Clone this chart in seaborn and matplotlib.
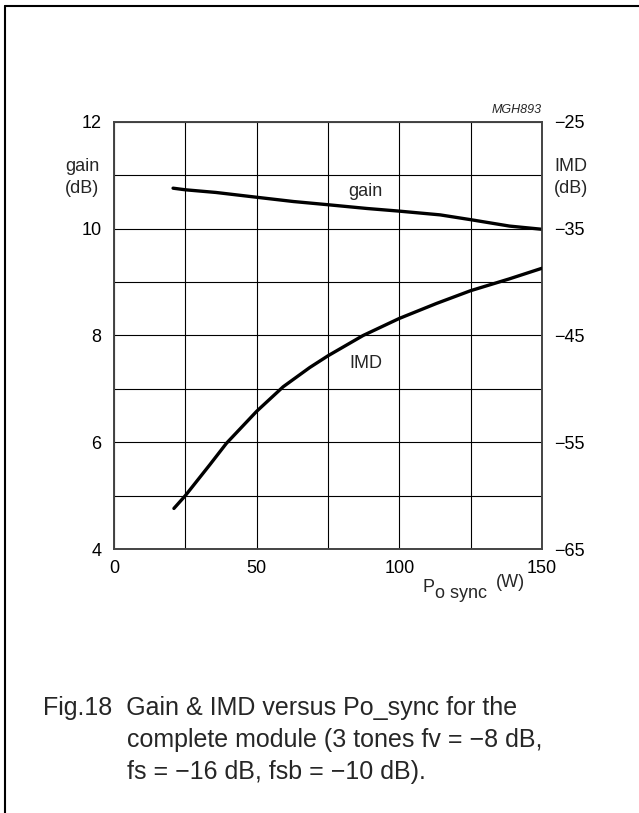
import matplotlib
matplotlib.use("Agg")
import matplotlib.pyplot as plt
import seaborn as sns
import pandas as pd
from matplotlib.lines import Line2D
from matplotlib.ticker import MultipleLocator

# ---- data ----
gain_x = [20.7, 25, 35.7, 50, 62.9, 75, 88.6, 100, 114.3, 125, 138.6, 150]
gain_y = [10.76, 10.73, 10.68, 10.59, 10.51, 10.45, 10.38, 10.33, 10.26, 10.17, 10.05, 9.99]

imd_x = [21, 25, 33.6, 39.4, 50, 59.3, 68.6, 75, 87.3, 100, 113, 125, 138.5, 150]
imd_y = [-61.2, -60.0, -57.1, -55.1, -52.1, -49.8, -48.0, -46.9, -45.0, -43.4, -42.0, -40.8, -39.7, -38.7]

x_ticks = [0, 50, 100, 150]
gain_ticks = [4, 6, 8, 10, 12]
imd_ticks = [-65, -55, -45, -35, -25]

caption1 = "Fig.18  Gain & IMD versus Po_sync for the"
caption2 = "complete module (3 tones fv = \u22128 dB,"
caption3 = "fs = \u221216 dB, fsb = \u221210 dB)."

sns.set_style("white")
plt.rcParams['font.family'] = ['Liberation Sans', 'DejaVu Sans']

W, H = 639, 813
fig = plt.figure(figsize=(W / 100, H / 100), dpi=100)
fig.patch.set_facecolor('white')

L, R, T, B = 114, 542, 122, 549
ax = fig.add_axes([L / W, 1 - B / H, (R - L) / W, (B - T) / H])
ax2 = ax.twinx()

gdf = pd.DataFrame({"P": gain_x, "gain": gain_y})
idf = pd.DataFrame({"P": imd_x, "IMD": imd_y})
sns.lineplot(data=gdf, x="P", y="gain", ax=ax, color="black", lw=2.4, zorder=5)
sns.lineplot(data=idf, x="P", y="IMD", ax=ax2, color="black", lw=2.4, zorder=5)

ax.set_xlim(0, 150)
ax.set_ylim(4, 12)
ax2.set_ylim(-65, -25)
ax.set_xticks(x_ticks)
ax.xaxis.set_minor_locator(MultipleLocator(25))
ax.set_yticks(gain_ticks)
ax.yaxis.set_minor_locator(MultipleLocator(1))
ax2.set_yticks(imd_ticks)
ax.grid(True, which='both', color='black', lw=0.8)
ax2.grid(False)
ax.set_axisbelow(True)

for a in (ax, ax2):
    a.set_xlabel("")
    a.set_ylabel("")
    a.tick_params(which='both', length=0, labelsize=13, colors='black')
    for s in a.spines.values():
        s.set_color('#444444')
        s.set_linewidth(1.2)
ax.tick_params(axis='y', pad=9)
ax.tick_params(axis='x', pad=8)
ax2.tick_params(axis='y', pad=9)

# in-plot labels
ax.text(88.2, 10.69, "gain", ha='center', va='center', fontsize=13)
ax.text(88.2, 7.47, "IMD", ha='center', va='center', fontsize=13)

# axis titles
ax.text(-11.2, 11.16, "gain", ha='center', va='center', fontsize=13, clip_on=False)
ax.text(-11.2, 10.76, "(dB)", ha='center', va='center', fontsize=13, clip_on=False)
ax.text(160, 11.16, "IMD", ha='center', va='center', fontsize=13, clip_on=False)
ax.text(160, 10.76, "(dB)", ha='center', va='center', fontsize=13, clip_on=False)

# x axis title: P, lowered "o sync", raised "(W)"
fig.text(423 / W, 1 - 592 / H, "P", ha='left', va='baseline', fontsize=13)
fig.text(435 / W, 1 - 598 / H, "o sync", ha='left', va='baseline', fontsize=13)
fig.text(525 / W, 1 - 587 / H, "(W)", ha='right', va='baseline', fontsize=13)

fig.text(542 / W, 1 - 110 / H, "MGH893", ha='right', va='center',
         fontsize=9, style='italic')

# caption
fig.text(43 / W, 1 - 715 / H, caption1, ha='left', va='baseline', fontsize=18)
fig.text(127 / W, 1 - 747 / H, caption2, ha='left', va='baseline', fontsize=18)
fig.text(127 / W, 1 - 779 / H, caption3, ha='left', va='baseline', fontsize=18)

# page border (left and top)
fig.add_artist(Line2D([4.5 / W, 4.5 / W], [0, 1 - 6 / H], transform=fig.transFigure,
                      color='black', lw=1.5))
fig.add_artist(Line2D([4.5 / W, 1], [1 - 6 / H, 1 - 6 / H], transform=fig.transFigure,
                      color='black', lw=1.5))

fig.savefig("out.png", dpi=100, facecolor='white')
